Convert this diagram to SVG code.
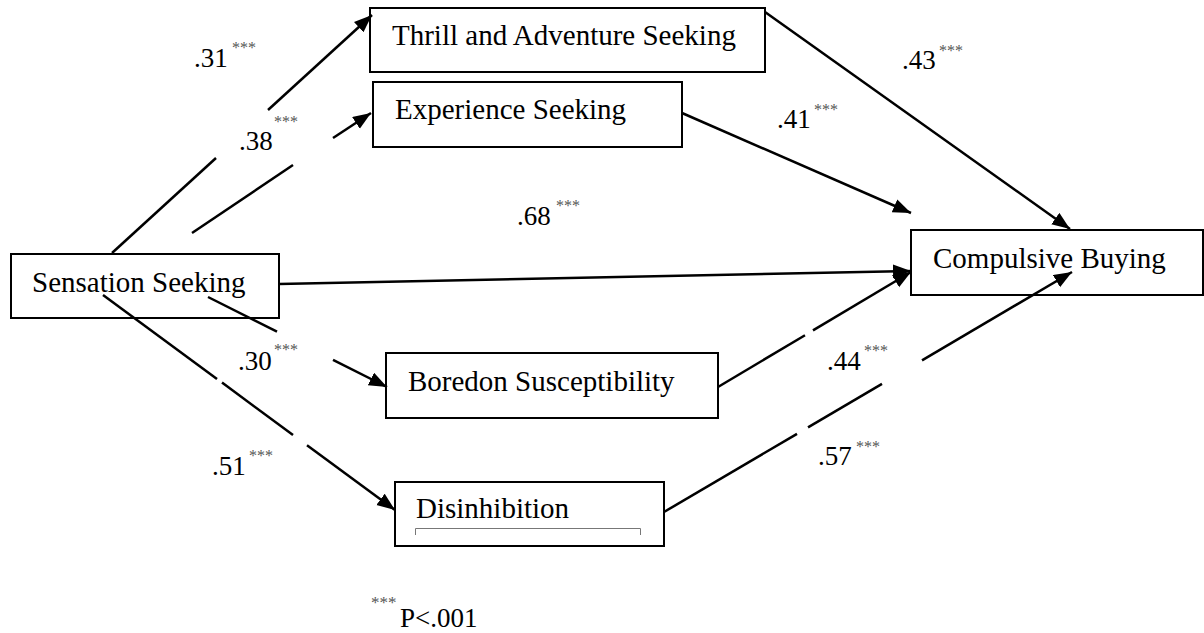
<svg xmlns="http://www.w3.org/2000/svg" width="1204" height="633" viewBox="0 0 1204 633">
<style>
.box{fill:#fff;stroke:#000;stroke-width:2}
.nt{font-family:"Liberation Serif","Times New Roman",serif;font-size:29px;fill:#000}
.lb{font-family:"Liberation Serif","Times New Roman",serif;font-size:27px;fill:#000}
.st{font-family:"Liberation Serif","Times New Roman",serif;font-size:16px;fill:#555}
.ln{stroke:#000;stroke-width:2.5;fill:none}
</style>
<defs>
<marker id="ah" markerUnits="userSpaceOnUse" markerWidth="20" markerHeight="16" refX="18" refY="7" orient="auto">
<path d="M0,0 L18,7 L0,14 z" fill="#000"/>
</marker>
</defs>
<rect width="1204" height="633" fill="#fff"/>
<g id="sensation"><rect class="box" x="11" y="254" width="268" height="64"/><text class="nt" x="32" y="292">Sensation Seeking</text></g>
<g id="thrill"><rect class="box" x="370" y="8" width="395" height="64"/><text class="nt" x="392" y="45">Thrill and Adventure Seeking</text></g>
<g id="experience"><rect class="box" x="373" y="82" width="309" height="65"/><text class="nt" x="395" y="119">Experience Seeking</text></g>
<g id="compulsive"><rect class="box" x="911" y="230" width="292" height="65"/><text class="nt" x="933" y="268">Compulsive Buying</text></g>
<g id="boredom"><rect class="box" x="386" y="353" width="332" height="65"/><text class="nt" x="408" y="391">Boredon Susceptibility</text></g>
<g id="disinhibition"><rect class="box" x="395" y="482" width="269" height="64"/><text class="nt" x="416" y="518">Disinhibition</text><path d="M415.5,535 V528.5 H640.5 V535" fill="none" stroke="#777" stroke-width="1"/></g>
<g id="connectors">
<line class="ln" x1="112" y1="253" x2="216" y2="158"/>
<line class="ln" x1="268" y1="110" x2="372" y2="15" marker-end="url(#ah)"/>
<line class="ln" x1="192" y1="233" x2="293" y2="165"/>
<line class="ln" x1="333" y1="138" x2="371" y2="113" marker-end="url(#ah)"/>
<line class="ln" x1="279" y1="284" x2="911" y2="271" marker-end="url(#ah)"/>
<line class="ln" x1="208" y1="297" x2="277" y2="331.7"/>
<line class="ln" x1="333" y1="359.9" x2="387" y2="387" marker-end="url(#ah)"/>
<line class="ln" x1="103" y1="295" x2="217" y2="379"/>
<line class="ln" x1="222" y1="382.6" x2="293" y2="435"/>
<line class="ln" x1="307" y1="445.2" x2="395" y2="510" marker-end="url(#ah)"/>
<line class="ln" x1="765" y1="12" x2="1070" y2="229" marker-end="url(#ah)"/>
<line class="ln" x1="682" y1="113" x2="911" y2="213" marker-end="url(#ah)"/>
<line class="ln" x1="718" y1="387" x2="805" y2="335.2"/>
<line class="ln" x1="813" y1="330.4" x2="911" y2="272" marker-end="url(#ah)"/>
<line class="ln" x1="664" y1="512" x2="797" y2="433.8"/>
<line class="ln" x1="808" y1="427.3" x2="882" y2="383.8"/>
<line class="ln" x1="922" y1="360.3" x2="1072" y2="272" marker-end="url(#ah)"/>
</g>
<g id="labels">
<text class="lb" x="194" y="67">.31</text><text class="st" x="232" y="53">***</text>
<text class="lb" x="239" y="150">.38</text><text class="st" x="274" y="127">***</text>
<text class="lb" x="517" y="225">.68</text><text class="st" x="556" y="211">***</text>
<text class="lb" x="238" y="370">.30</text><text class="st" x="274" y="355">***</text>
<text class="lb" x="212" y="475">.51</text><text class="st" x="249" y="461">***</text>
<text class="lb" x="902" y="69">.43</text><text class="st" x="939" y="56">***</text>
<text class="lb" x="777" y="128">.41</text><text class="st" x="814" y="115">***</text>
<text class="lb" x="827" y="370">.44</text><text class="st" x="864" y="356">***</text>
<text class="lb" x="818" y="465">.57</text><text class="st" x="856" y="452">***</text>
</g>
<g id="note"><text class="st" x="371" y="608" style="font-size:17px">***</text><text class="lb" x="400" y="627">P&lt;.001</text></g>
</svg>
